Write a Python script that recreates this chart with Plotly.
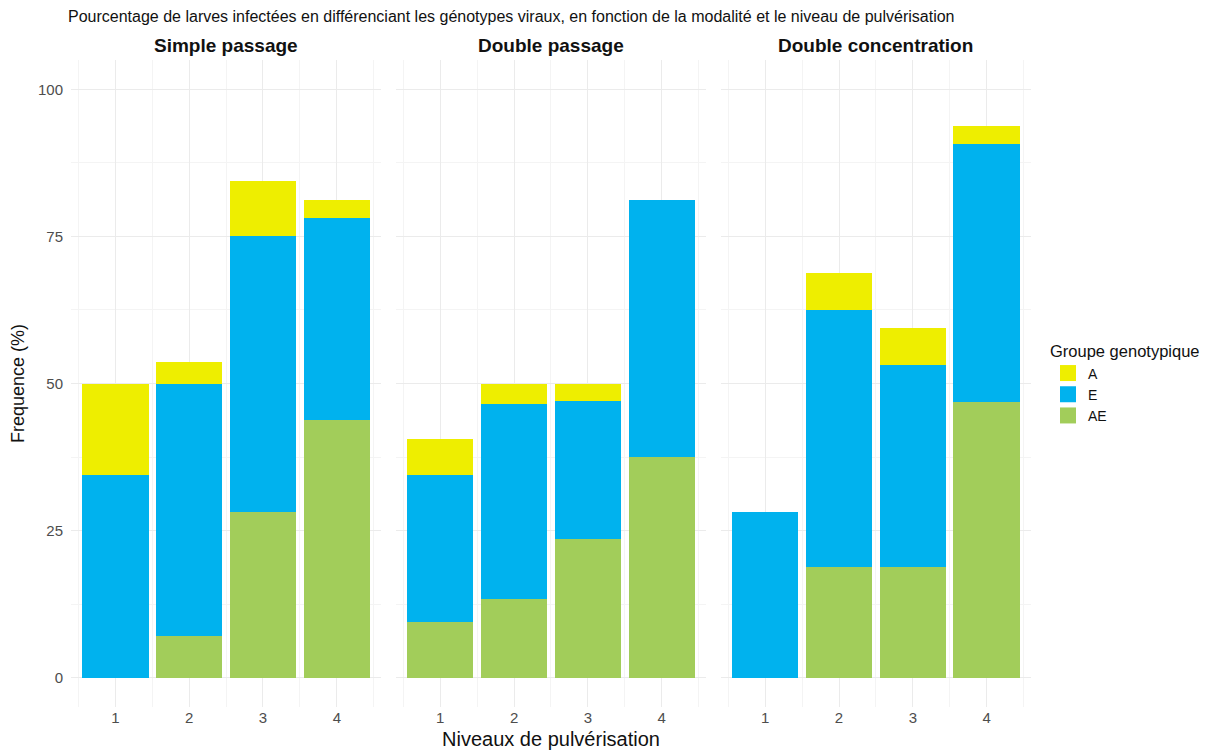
import plotly.graph_objects as go
from plotly.subplots import make_subplots

panels = ["Simple passage", "Double passage", "Double concentration"]
niveaux = [1, 2, 3, 4]

# values per panel (percent), stacked AE (bottom), E, A (top)
AE = {
    "Simple passage": [0, 7.1, 28.1, 43.75],
    "Double passage": [9.4, 13.3, 23.5, 37.5],
    "Double concentration": [0, 18.75, 18.75, 46.9],
}
E = {
    "Simple passage": [34.4, 42.9, 46.9, 34.4],
    "Double passage": [25.0, 33.3, 23.6, 43.75],
    "Double concentration": [28.1, 43.75, 34.4, 43.75],
}
A = {
    "Simple passage": [15.6, 3.6, 9.4, 3.1],
    "Double passage": [6.2, 3.3, 2.9, 0],
    "Double concentration": [0, 6.25, 6.25, 3.1],
}

groups = [("AE", AE, "#A2CD5A"), ("E", E, "#00B2EE"), ("A", A, "#EEEE00")]
legend_rank = {"A": 1, "E": 2, "AE": 3}

# page body has an 8px margin, layout positions compensate for it
OFF = 8
L, R_EDGE, T, B_EDGE = 71 - OFF, 1031 - OFF, 60 - OFF, 707 - OFF
PW, PH = R_EDGE - L, B_EDGE - T
FONT = "Liberation Sans, Arial, sans-serif"

fig = make_subplots(rows=1, cols=3, shared_yaxes=True, horizontal_spacing=0.0154,
                    subplot_titles=panels)

for ci, p in enumerate(panels):
    for name, data, color in groups:
        fig.add_trace(go.Bar(
            x=niveaux, y=data[p], name=name, marker_color=color,
            marker_line_width=0, width=0.9,
            showlegend=False, legendgroup=name,
            hovertemplate="%{y}<extra>" + name + "</extra>",
        ), row=1, col=ci + 1)

# legend keys (large squares like ggplot keys)
for name, data, color in groups:
    fig.add_trace(go.Scatter(
        x=[None], y=[None], mode="markers", name=name, legendgroup=name,
        legendrank=legend_rank[name],
        marker=dict(symbol="square", size=19, color=color),
        showlegend=True,
    ), row=1, col=1)

fig.update_layout(
    barmode="stack",
    width=1216, height=754,
    paper_bgcolor="white", plot_bgcolor="white",
    font=dict(family=FONT, color="#222222"),
    margin=dict(l=L, r=1216 - R_EDGE, t=T, b=754 - B_EDGE, autoexpand=False),
    title=dict(text="Pourcentage de larves infectées en différenciant les génotypes viraux, en fonction de la modalité et le niveau de pulvérisation",
               x=(68 - OFF) / 1216, xanchor="left", xref="container",
               y=1 - 3 / 754, yanchor="top", yref="container",
               pad=dict(l=0, t=0, r=0, b=0),
               font=dict(size=16, color="#111111")),
    legend=dict(title=dict(text="Groupe genotypique", font=dict(size=16.5, color="#111111")),
                font=dict(size=14, color="#111111"), x=(1048 - OFF - L) / PW, xanchor="left",
                y=(B_EDGE - (336 - OFF)) / PH, yanchor="top", tracegroupgap=0, itemwidth=30,
                bgcolor="rgba(0,0,0,0)"),
    bargap=0.1,
)

for ann in fig.layout.annotations:
    ann.font = dict(size=19, color="#111111", family=FONT)
    ann.text = "<b>" + ann.text + "</b>"
    ann.yshift = 2

for c in range(1, 4):
    fig.update_xaxes(range=[0.4, 4.6], tickvals=niveaux, ticktext=[str(v) for v in niveaux],
                     showgrid=True, gridcolor="#EBEBEB", gridwidth=1, zeroline=False,
                     minor=dict(dtick=1, tick0=0.5, showgrid=True, gridcolor="#F4F4F4", gridwidth=1),
                     ticks="", tickfont=dict(size=15, color="#4D4D4D"), showline=False,
                     automargin=False, row=1, col=c)
    fig.update_yaxes(range=[-5, 105], tickvals=[0, 25, 50, 75, 100],
                     showgrid=True, gridcolor="#EBEBEB", gridwidth=1, zeroline=False,
                     minor=dict(dtick=12.5, tick0=0, showgrid=True, gridcolor="#F4F4F4", gridwidth=1),
                     ticks="", tickfont=dict(size=15, color="#4D4D4D"), showline=False,
                     automargin=False, row=1, col=c)

fig.update_yaxes(ticklabelstandoff=7, row=1, col=1)
fig.update_xaxes(title=dict(text="Niveaux de pulvérisation", font=dict(size=20, color="#111111"), standoff=6),
                 row=1, col=2)
fig.update_yaxes(title=dict(text="Frequence (%)", font=dict(size=18, color="#111111"), standoff=10),
                 row=1, col=1)

fig.write_html("out.html")
